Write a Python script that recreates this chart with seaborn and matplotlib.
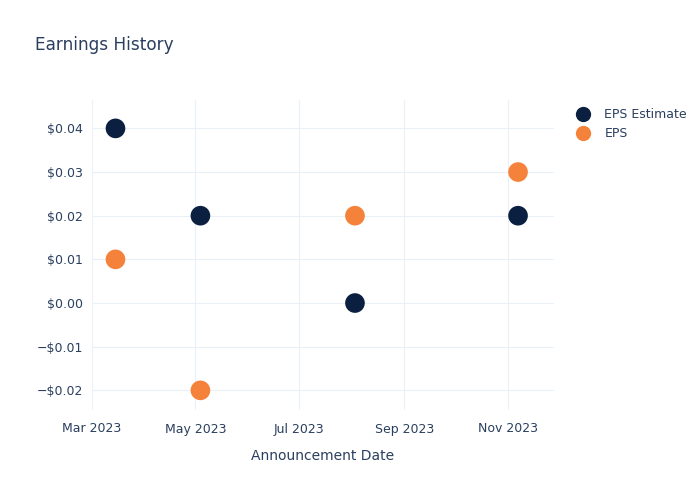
import matplotlib
matplotlib.use("Agg")
import matplotlib.pyplot as plt
import matplotlib.dates as mdates
import matplotlib.ticker as mticker
import pandas as pd
import seaborn as sns

dates = ["2023-03-15", "2023-05-04", "2023-08-03", "2023-11-07"]
eps_estimate = [0.04, 0.02, 0.00, 0.02]
eps_actual = [0.01, -0.02, 0.02, 0.03]
series_names = ["EPS Estimate", "EPS"]
colors = ["#0b1f40", "#f5823a"]
tick_dates = ["2023-03-01", "2023-05-01", "2023-07-01", "2023-09-01", "2023-11-01"]

df = pd.DataFrame({
    "date": pd.to_datetime(dates * 2),
    "value": eps_estimate + eps_actual,
    "series": [series_names[0]] * len(dates) + [series_names[1]] * len(dates),
})

sns.set_style("white")
plt.rcParams['font.family'] = ['DejaVu Sans']
text_color = "#2a3f5f"
grid_color = "#ebeff7"

fig = plt.figure(figsize=(7, 5), dpi=100)
ax = fig.add_axes([0.131, 0.18, 0.66, 0.62])

sns.scatterplot(data=df, x="date", y="value", hue="series",
                palette=dict(zip(series_names, colors)), s=200,
                linewidth=0, ax=ax, legend=False, zorder=3)

ax.set_xlim(pd.Timestamp("2023-03-01"), pd.Timestamp("2023-11-28"))
ax.set_ylim(-0.0245, 0.0465)
ax.set_xticks(pd.to_datetime(tick_dates))
ax.xaxis.set_major_formatter(mdates.DateFormatter("%b %Y"))
ax.yaxis.set_major_locator(mticker.MultipleLocator(0.01))
ax.yaxis.set_major_formatter(mticker.FuncFormatter(
    lambda v, p: ("\u2212$%.2f" % abs(v)) if v < -1e-9 else "$%.2f" % abs(v)))

ax.grid(True, color=grid_color, linewidth=0.8)
ax.set_axisbelow(True)
for s in ax.spines.values():
    s.set_visible(False)
ax.tick_params(axis="x", length=0, labelsize=9, colors=text_color, pad=9)
ax.tick_params(axis="y", length=0, labelsize=9, colors=text_color, pad=6)
ax.set_xlabel("Announcement Date", fontsize=10, color=text_color, labelpad=10)
ax.set_ylabel("")

fig.text(0.05, 0.91, "Earnings History", fontsize=12.2, color=text_color, va="center")

handles = [plt.Line2D([], [], marker="o", linestyle="", markersize=11,
                      markerfacecolor=c, markeredgewidth=0) for c in colors]
fig.legend(handles, series_names, loc="upper left", bbox_to_anchor=(0.815, 0.793),
           frameon=False, fontsize=9, labelcolor=text_color, handletextpad=1.1,
           labelspacing=0.45, borderaxespad=0, handlelength=1.2)

fig.savefig("out.png", dpi=100)
